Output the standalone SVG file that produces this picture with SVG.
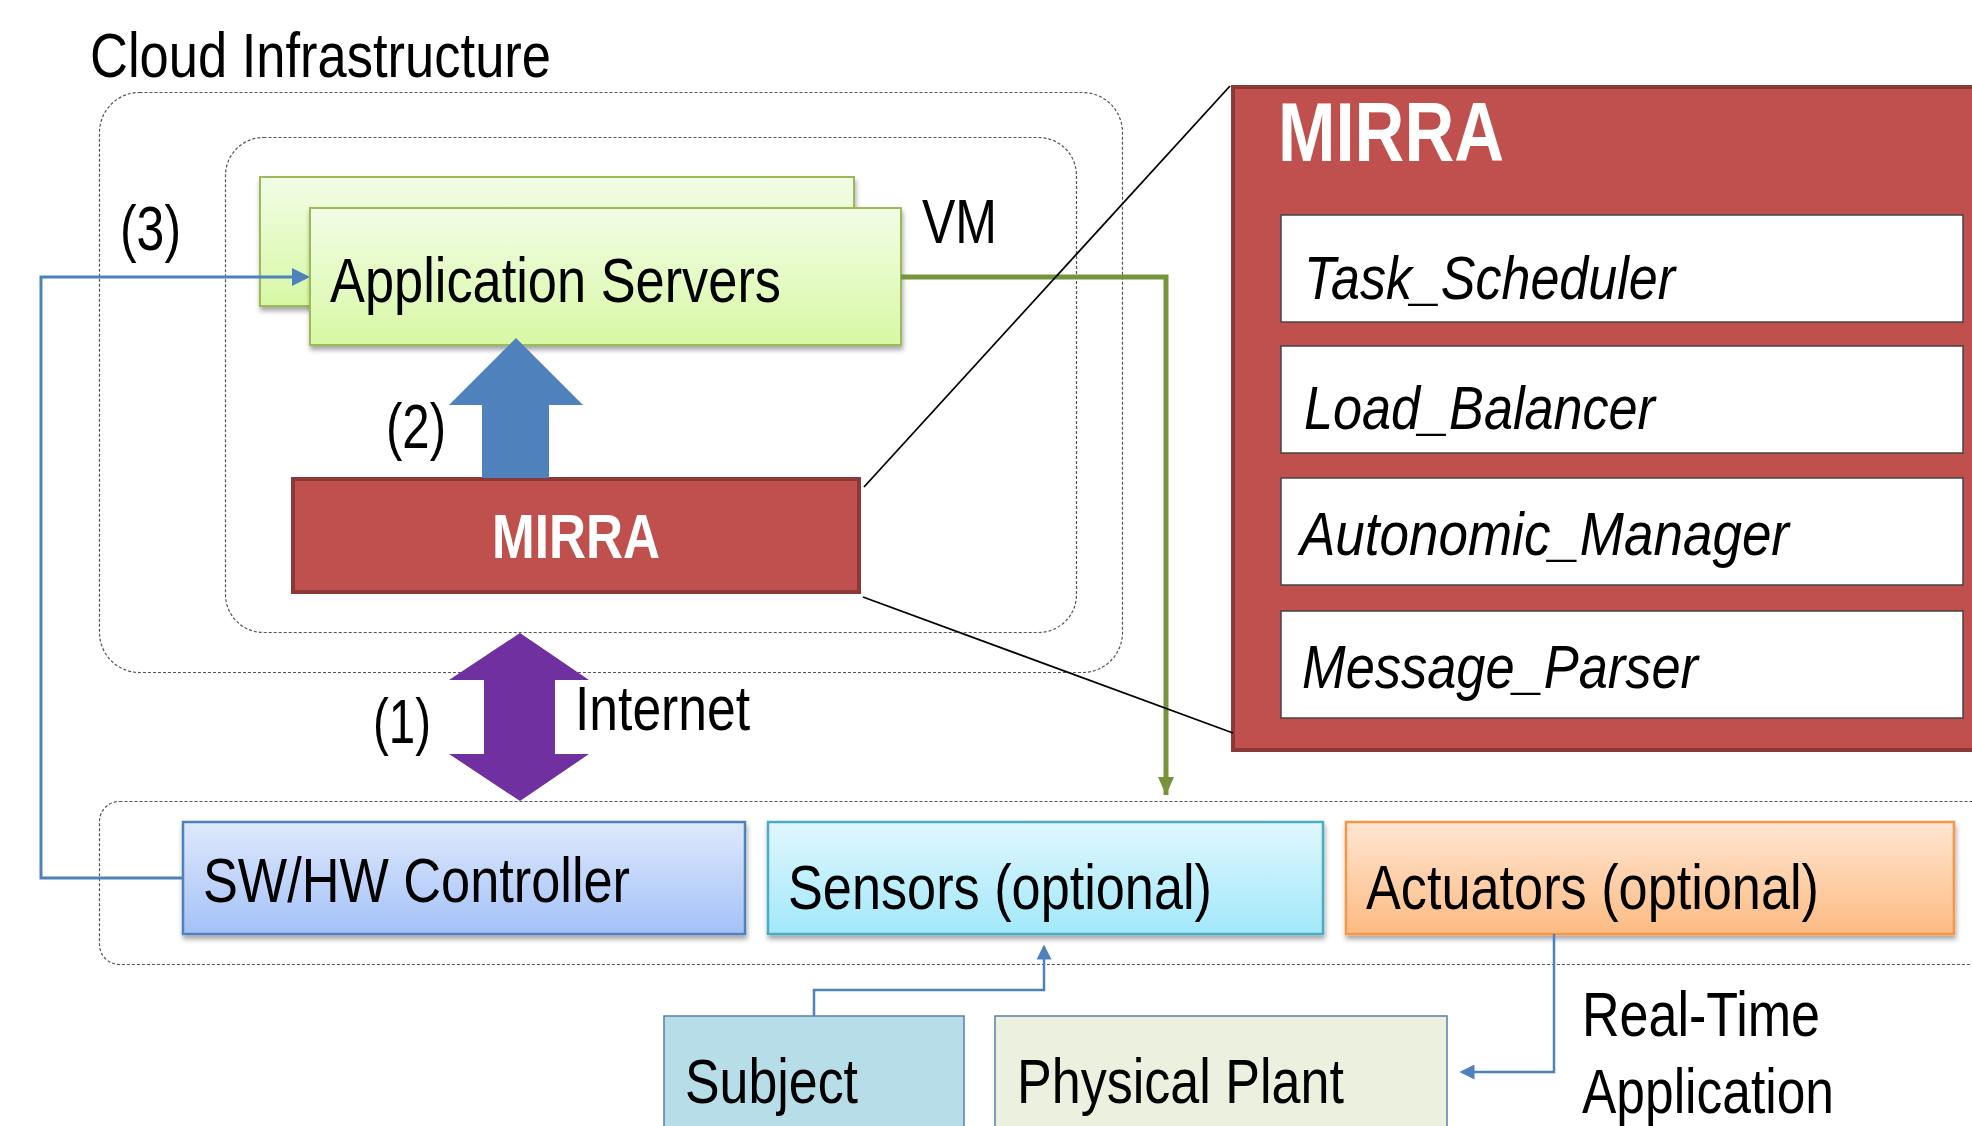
<svg xmlns="http://www.w3.org/2000/svg" width="1972" height="1126" viewBox="0 0 1972 1126">
<style>
  text { font-family: "Liberation Sans", Arial, sans-serif; fill: #000; }
  .lbl { font-size: 63px; }
  .ital { font-size: 62px; font-style: italic; }
  .wb { font-weight: bold; fill: #fff; }
  .dash { fill: none; stroke: #555; stroke-width: 1.2; stroke-dasharray: 3 2; }
  .sub { fill: #fff; stroke: #444; stroke-width: 1.5; }
  .red { fill: #c0504d; stroke: #8c3836; stroke-width: 4; }
  .conn-blue { fill: none; stroke: #4f81bd; stroke-width: 3; }
  .conn-blue2 { fill: none; stroke: #4f81bd; stroke-width: 2.5; }
  .conn-green { fill: none; stroke: #77933c; stroke-width: 5; }
  .conn-black { fill: none; stroke: #000; stroke-width: 1.8; }
</style>
<defs>
  <linearGradient id="gGreen" x1="0" y1="0" x2="0" y2="1">
    <stop offset="0" stop-color="#f2fde6"/><stop offset="1" stop-color="#d8f8a4"/>
  </linearGradient>
  <linearGradient id="gBlue" x1="0" y1="0" x2="0" y2="1">
    <stop offset="0" stop-color="#dfe9fc"/><stop offset="1" stop-color="#a3c1f8"/>
  </linearGradient>
  <linearGradient id="gCyan" x1="0" y1="0" x2="0" y2="1">
    <stop offset="0" stop-color="#e0f7fe"/><stop offset="1" stop-color="#a2e8fa"/>
  </linearGradient>
  <linearGradient id="gOrange" x1="0" y1="0" x2="0" y2="1">
    <stop offset="0" stop-color="#fee6d3"/><stop offset="1" stop-color="#fdbb82"/>
  </linearGradient>
  <filter id="sh" x="-5%" y="-10%" width="110%" height="130%">
    <feDropShadow dx="1" dy="4" stdDeviation="2.5" flood-color="#000" flood-opacity="0.35"/>
  </filter>
  <marker id="aBlue" markerWidth="6" markerHeight="6" refX="5" refY="3" orient="auto" markerUnits="strokeWidth">
    <path d="M0,0 L6,3 L0,6 z" fill="#4f81bd"/>
  </marker>
  <marker id="aGreen" markerWidth="4" markerHeight="4" refX="3.6" refY="1.6" orient="auto" markerUnits="strokeWidth">
    <path d="M0,0 L3.6,1.6 L0,3.2 z" fill="#77933c"/>
  </marker>
</defs>

<!-- containers -->
<g id="cloud">
  <rect class="dash" x="99.5" y="92.5" width="1023" height="580" rx="40" ry="40"/>
  <text class="lbl" x="90" y="77" textLength="461" lengthAdjust="spacingAndGlyphs">Cloud Infrastructure</text>
</g>
<g id="vm">
  <rect class="dash" x="225.5" y="137.5" width="851" height="495" rx="38" ry="38"/>
  <text class="lbl" x="922" y="243" textLength="75" lengthAdjust="spacingAndGlyphs">VM</text>
</g>
<g id="devices">
  <rect class="dash" x="99.5" y="801.5" width="1900" height="163" rx="20" ry="20"/>
</g>

<!-- nodes -->
<g id="app-servers-back">
  <rect x="260" y="177" width="594" height="129" fill="url(#gGreen)" stroke="#9bbb59" stroke-width="2" filter="url(#sh)"/>
</g>
<g id="app-servers">
  <rect x="310" y="208" width="591" height="137" fill="url(#gGreen)" stroke="#9bbb59" stroke-width="2" filter="url(#sh)"/>
  <text class="lbl" x="330" y="302" textLength="451" lengthAdjust="spacingAndGlyphs">Application Servers</text>
</g>
<g id="mirra-small">
  <rect class="red" x="293" y="479" width="566" height="113"/>
  <text class="lbl wb" x="492" y="558" textLength="168" lengthAdjust="spacingAndGlyphs">MIRRA</text>
</g>
<g id="mirra-detail">
  <rect class="red" x="1233" y="87" width="800" height="663"/>
  <text class="wb" x="1278" y="161" font-size="84" textLength="226" lengthAdjust="spacingAndGlyphs">MIRRA</text>
</g>
<g id="task-scheduler">
  <rect class="sub" x="1281" y="215" width="682" height="107"/>
  <text class="ital" x="1304" y="299" textLength="371" lengthAdjust="spacingAndGlyphs">Task_Scheduler</text>
</g>
<g id="load-balancer">
  <rect class="sub" x="1281" y="346" width="682" height="107"/>
  <text class="ital" x="1304" y="429" textLength="351" lengthAdjust="spacingAndGlyphs">Load_Balancer</text>
</g>
<g id="autonomic-manager">
  <rect class="sub" x="1281" y="478" width="682" height="107"/>
  <text class="ital" x="1300" y="555" textLength="489" lengthAdjust="spacingAndGlyphs">Autonomic_Manager</text>
</g>
<g id="message-parser">
  <rect class="sub" x="1281" y="611" width="682" height="107"/>
  <text class="ital" x="1302" y="688" textLength="396" lengthAdjust="spacingAndGlyphs">Message_Parser</text>
</g>
<g id="swhw-controller">
  <rect x="183" y="822" width="562" height="112" fill="url(#gBlue)" stroke="#4f81bd" stroke-width="2.5" filter="url(#sh)"/>
  <text class="lbl" x="203" y="902" textLength="427" lengthAdjust="spacingAndGlyphs">SW/HW Controller</text>
</g>
<g id="sensors">
  <rect x="768" y="822" width="555" height="112" fill="url(#gCyan)" stroke="#4bacc6" stroke-width="2.5" filter="url(#sh)"/>
  <text class="lbl" x="788" y="909" textLength="424" lengthAdjust="spacingAndGlyphs">Sensors (optional)</text>
</g>
<g id="actuators">
  <rect x="1346" y="822" width="608" height="112" fill="url(#gOrange)" stroke="#f79646" stroke-width="2.5" filter="url(#sh)"/>
  <text class="lbl" x="1366" y="909" textLength="453" lengthAdjust="spacingAndGlyphs">Actuators (optional)</text>
</g>
<g id="subject">
  <rect x="664" y="1016" width="300" height="130" fill="#b7dde8" stroke="#5a7fa8" stroke-width="1.5"/>
  <text class="lbl" x="685" y="1103" textLength="173" lengthAdjust="spacingAndGlyphs">Subject</text>
</g>
<g id="physical-plant">
  <rect x="995" y="1016" width="452" height="130" fill="#ebf1de" stroke="#5a7fa8" stroke-width="1.5"/>
  <text class="lbl" x="1017" y="1103" textLength="327" lengthAdjust="spacingAndGlyphs">Physical Plant</text>
</g>

<!-- connectors -->
<g id="connectors">
  <polyline class="conn-blue" points="183,878 41,878 41,277 307,277" marker-end="url(#aBlue)"/>
  <polyline class="conn-green" points="901,277 1166,277 1166,795" marker-end="url(#aGreen)"/>
  <polyline class="conn-blue2" points="814,1016 814,990 1044,990 1044,947" marker-end="url(#aBlue)"/>
  <polyline class="conn-blue2" points="1554,934 1554,1072 1462,1072" marker-end="url(#aBlue)"/>
  <line class="conn-black" x1="864" y1="487" x2="1230" y2="86"/>
  <line class="conn-black" x1="863" y1="597" x2="1233" y2="733"/>
  <polygon points="516,338 583,405 549,405 549,478 482,478 482,405 449,405" fill="#4f81bd"/>
  <polygon points="520,633 589,680 555,680 555,754 589,754 520,801 449,754 484,754 484,680 449,680" fill="#7030a0"/>
  <text class="lbl" x="120" y="250" textLength="61" lengthAdjust="spacingAndGlyphs">(3)</text>
  <text class="lbl" x="386" y="448" textLength="60" lengthAdjust="spacingAndGlyphs">(2)</text>
  <text class="lbl" x="373" y="743" textLength="58" lengthAdjust="spacingAndGlyphs">(1)</text>
  <text class="lbl" x="575" y="730" textLength="175" lengthAdjust="spacingAndGlyphs">Internet</text>
  <text class="lbl" x="1582" y="1036" textLength="238" lengthAdjust="spacingAndGlyphs">Real-Time</text>
  <text class="lbl" x="1582" y="1113" textLength="252" lengthAdjust="spacingAndGlyphs">Application</text>
</g>
</svg>
